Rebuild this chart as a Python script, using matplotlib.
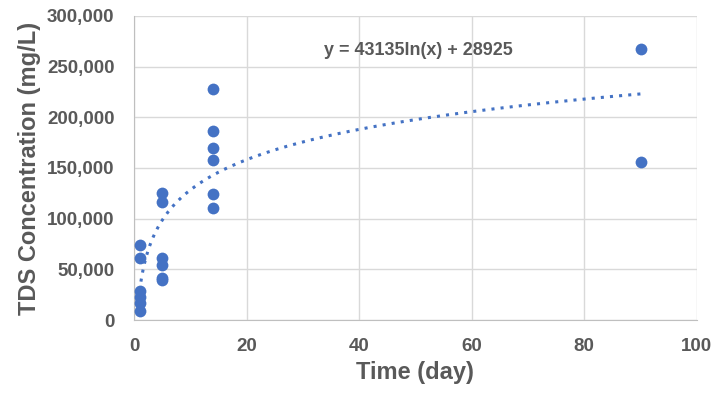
import numpy as np
import matplotlib
matplotlib.use("Agg")
import matplotlib.pyplot as plt
from matplotlib.ticker import FuncFormatter

# Mesures TDS par jour de prelevement
days = [1, 1, 1, 1, 1, 1,
        5, 5, 5, 5, 5, 5,
        14, 14, 14, 14, 14, 14,
        90, 90]
tds = [74000, 61500, 28500, 23000, 16500, 8500,
       125500, 116000, 61000, 54500, 41500, 39000,
       228000, 186500, 169500, 157500, 124500, 110500,
       267500, 155500]

# Tendance logarithmique (coefficients de l'equation affichee)
trend_a = 43135
trend_b = 28925
trend_x = np.linspace(1, 90, 300)

BLUE = "#4472C4"
INK = "#595959"
GRID = "#d9d9d9"

plt.rcParams["font.family"] = ["Liberation Sans", "DejaVu Sans"]

fig = plt.figure(figsize=(7.18, 3.96), dpi=100)
ax = fig.add_axes([0.1866, 0.1919, 0.784, 0.768])

ax.plot(trend_x, trend_a * np.log(trend_x) + trend_b, color=BLUE,
        linestyle=(0, (1, 2)), linewidth=2.2, zorder=2)
ax.scatter(days, tds, s=72, color=BLUE, zorder=3, linewidths=0)

ax.set_xlim(0, 100)
ax.set_ylim(0, 300000)
ax.set_xticks(range(0, 101, 20))
ax.set_yticks(range(0, 300001, 50000))
ax.yaxis.set_major_formatter(FuncFormatter(lambda v, _: f"{int(v):,}"))
ax.grid(True, color=GRID, linewidth=1, zorder=0)
ax.set_axisbelow(True)
for side in ("top", "right"):
    ax.spines[side].set_visible(False)
ax.spines["left"].set_color("#bfbfbf")
ax.spines["bottom"].set_color("#bfbfbf")
ax.tick_params(length=0, colors=INK, labelsize=13.5)
ax.tick_params(axis="y", pad=14)
ax.tick_params(axis="x", pad=13)
for lab in ax.get_xticklabels() + ax.get_yticklabels():
    lab.set_fontweight("bold")

ax.set_xlabel("Time (day)", fontsize=17, fontweight="bold", color=INK, labelpad=4)
ax.set_ylabel("TDS Concentration (mg/L)", fontsize=17, fontweight="bold", color=INK, labelpad=4)

ax.text(50.5, 265500, "y = 43135ln(x) + 28925", fontsize=13, color=INK,
        ha="center", va="center", fontweight="bold")

fig.savefig("out.png", dpi=100)
